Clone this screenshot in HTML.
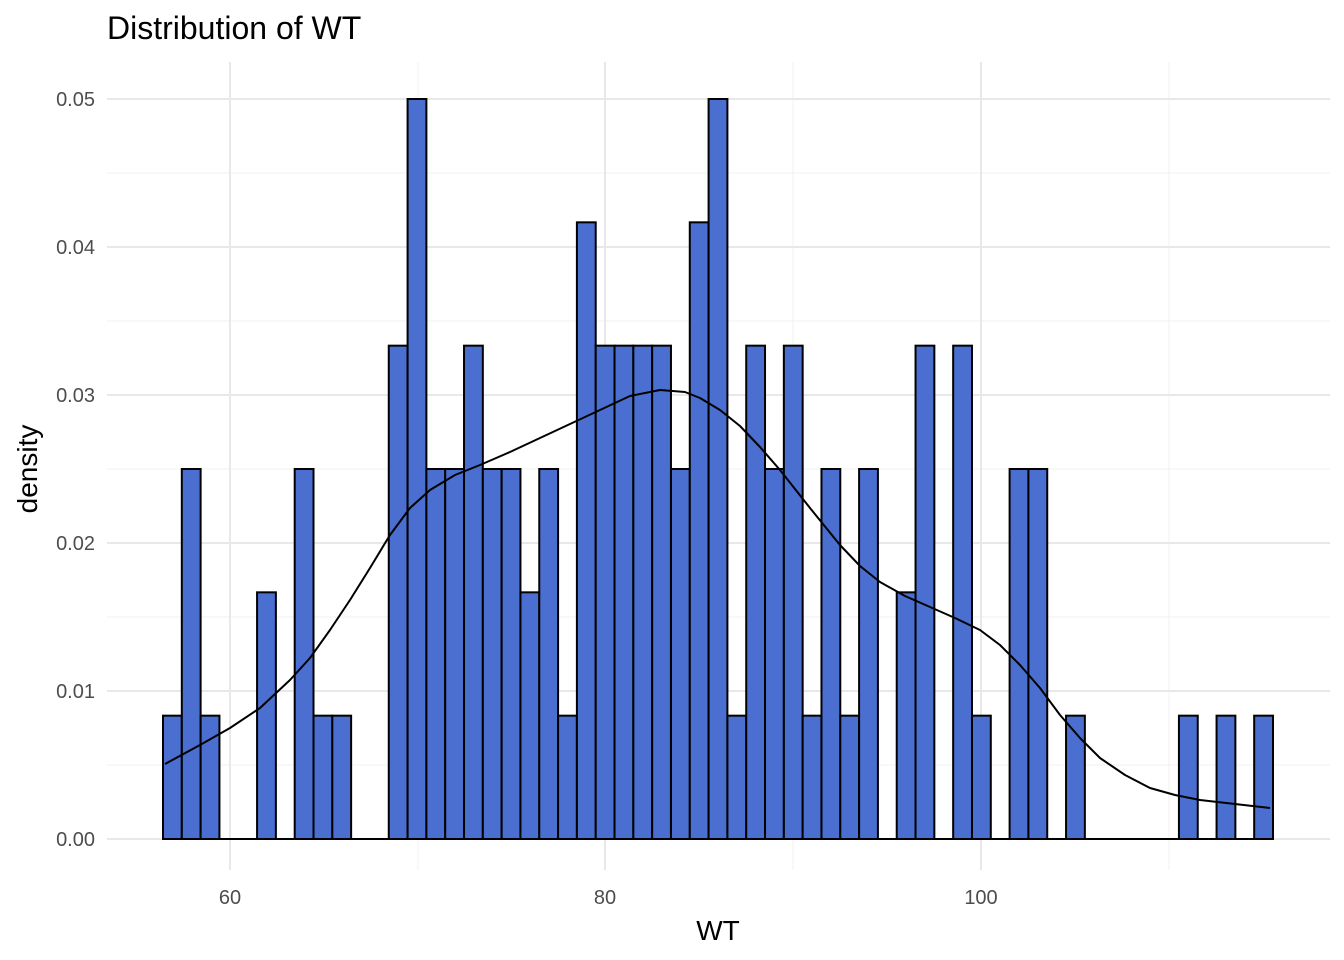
<!DOCTYPE html>
<html><head><meta charset="utf-8"><style>
html,body{margin:0;padding:0;background:#fff;}
svg{display:block;font-family:"Liberation Sans",Arial,sans-serif;}
</style></head><body>
<svg width="1344" height="960" viewBox="0 0 1344 960" xmlns="http://www.w3.org/2000/svg">
<rect width="1344" height="960" fill="#fff"/>
<g stroke="#f3f3f3" stroke-width="1.2">
<line x1="107" x2="1330" y1="765" y2="765"/><line x1="107" x2="1330" y1="617" y2="617"/>
<line x1="107" x2="1330" y1="469" y2="469"/><line x1="107" x2="1330" y1="321" y2="321"/>
<line x1="107" x2="1330" y1="173" y2="173"/>
<line x1="418" x2="418" y1="62" y2="870"/><line x1="793" x2="793" y1="62" y2="870"/><line x1="1169" x2="1169" y1="62" y2="870"/>
</g>
<g stroke="#e8e8e8" stroke-width="2">
<line x1="107" x2="1330" y1="839" y2="839"/><line x1="107" x2="1330" y1="691" y2="691"/>
<line x1="107" x2="1330" y1="543" y2="543"/><line x1="107" x2="1330" y1="395" y2="395"/>
<line x1="107" x2="1330" y1="247" y2="247"/><line x1="107" x2="1330" y1="99" y2="99"/>
<line x1="230" x2="230" y1="62" y2="870"/><line x1="605" x2="605" y1="62" y2="870"/><line x1="981" x2="981" y1="62" y2="870"/>
</g>
<line x1="163" x2="1273" y1="839" y2="839" stroke="#000" stroke-width="2"/>
<g fill="#4A6FD0" stroke="#000" stroke-width="2">
<rect x="163.00" y="715.67" width="18.81" height="123.33"/>
<rect x="181.81" y="469" width="18.81" height="370"/>
<rect x="200.63" y="715.67" width="18.81" height="123.33"/>
<rect x="257.07" y="592.33" width="18.81" height="246.67"/>
<rect x="294.70" y="469" width="18.81" height="370"/>
<rect x="313.51" y="715.67" width="18.81" height="123.33"/>
<rect x="332.32" y="715.67" width="18.81" height="123.33"/>
<rect x="388.76" y="345.67" width="18.81" height="493.33"/>
<rect x="407.58" y="99" width="18.81" height="740"/>
<rect x="426.39" y="469" width="18.81" height="370"/>
<rect x="445.20" y="469" width="18.81" height="370"/>
<rect x="464.02" y="345.67" width="18.81" height="493.33"/>
<rect x="482.83" y="469" width="18.81" height="370"/>
<rect x="501.64" y="469" width="18.81" height="370"/>
<rect x="520.46" y="592.33" width="18.81" height="246.67"/>
<rect x="539.27" y="469" width="18.81" height="370"/>
<rect x="558.08" y="715.67" width="18.81" height="123.33"/>
<rect x="576.90" y="222.33" width="18.81" height="616.67"/>
<rect x="595.71" y="345.67" width="18.81" height="493.33"/>
<rect x="614.53" y="345.67" width="18.81" height="493.33"/>
<rect x="633.34" y="345.67" width="18.81" height="493.33"/>
<rect x="652.15" y="345.67" width="18.81" height="493.33"/>
<rect x="670.97" y="469" width="18.81" height="370"/>
<rect x="689.78" y="222.33" width="18.81" height="616.67"/>
<rect x="708.59" y="99" width="18.81" height="740"/>
<rect x="727.41" y="715.67" width="18.81" height="123.33"/>
<rect x="746.22" y="345.67" width="18.81" height="493.33"/>
<rect x="765.03" y="469" width="18.81" height="370"/>
<rect x="783.85" y="345.67" width="18.81" height="493.33"/>
<rect x="802.66" y="715.67" width="18.81" height="123.33"/>
<rect x="821.47" y="469" width="18.81" height="370"/>
<rect x="840.29" y="715.67" width="18.81" height="123.33"/>
<rect x="859.10" y="469" width="18.81" height="370"/>
<rect x="896.73" y="592.33" width="18.81" height="246.67"/>
<rect x="915.54" y="345.67" width="18.81" height="493.33"/>
<rect x="953.17" y="345.67" width="18.81" height="493.33"/>
<rect x="971.98" y="715.67" width="18.81" height="123.33"/>
<rect x="1009.61" y="469" width="18.81" height="370"/>
<rect x="1028.42" y="469" width="18.81" height="370"/>
<rect x="1066.05" y="715.67" width="18.81" height="123.33"/>
<rect x="1178.93" y="715.67" width="18.81" height="123.33"/>
<rect x="1216.56" y="715.67" width="18.81" height="123.33"/>
<rect x="1254.18" y="715.67" width="18.81" height="123.33"/>
</g>
<polyline fill="none" stroke="#000" stroke-width="2" stroke-linejoin="round" points="165,764 200,745 230,728 260,708 290,680 310,658 330,630 350,600 370,568 390,535 410,508 430,490 455,475 480,465 510,452 540,438 570,424 600,410 630,396 660,390 685,392 700,398 720,410 740,426 760,447 780,470 810,508 840,545 860,566 880,582 905,596 930,607 955,618 980,630 1000,645 1020,665 1040,688 1060,715 1080,738 1100,758 1125,775 1150,788 1175,795 1200,800 1235,804 1270,808"/>
<g fill="#4d4d4d" font-size="20" text-anchor="end">
<text x="95" y="846">0.00</text><text x="95" y="698">0.01</text><text x="95" y="550">0.02</text>
<text x="95" y="402">0.03</text><text x="95" y="254">0.04</text><text x="95" y="106">0.05</text>
</g>
<g fill="#4d4d4d" font-size="20" text-anchor="middle">
<text x="230" y="904">60</text><text x="605" y="904">80</text><text x="981" y="904">100</text>
</g>
<text x="718" y="940" font-size="28" text-anchor="middle" fill="#000">WT</text>
<text transform="translate(37,469) rotate(-90)" font-size="28" text-anchor="middle" fill="#000">density</text>
<text x="107" y="39" font-size="32" fill="#000">Distribution of WT</text>
</svg>
</body></html>
